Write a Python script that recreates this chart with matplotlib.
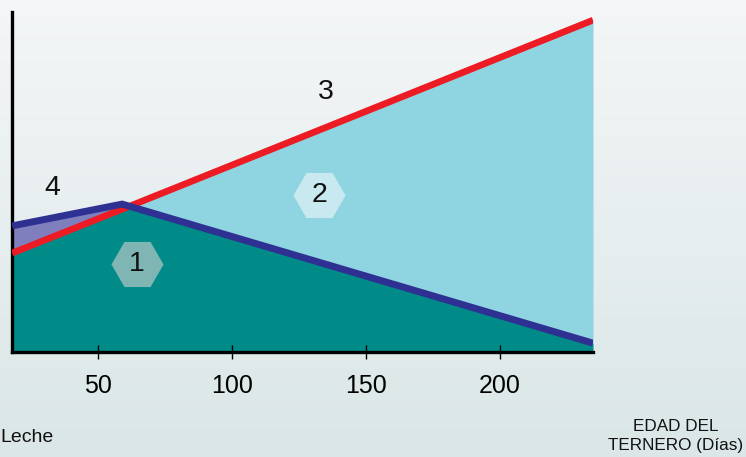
import numpy as np
import matplotlib
matplotlib.use("Agg")
import matplotlib.pyplot as plt
from matplotlib import font_manager

# ---- data ----
days = np.array([18, 59, 234.7])
red_line = np.array([29.1, 42.0, 97.6])      # line 3
blue_line = np.array([37.1, 43.5, 2.6])      # line between 1 and 2 / 4
x_ticks = [50, 100, 150, 200]
x_ticklabels = ["50", "100", "150", "200"]
region_labels = ["1", "2", "3", "4"]
region_x = [64.6, 132.5, 135.0, 32.8]
region_y = [25.9, 46.2, 76.5, 48.2]
hex_x = [64.6, 132.5]
hex_y = [25.9, 46.2]
hex_colors = ["#7fb6b4", "#c9e9f0"]

names = {f.name for f in font_manager.fontManager.ttflist}
if "DejaVu Sans Condensed" in names:
    FONT = ["DejaVu Sans Condensed", "DejaVu Sans"]
elif "Liberation Sans Narrow" in names:
    FONT = ["Liberation Sans Narrow", "DejaVu Sans"]
else:
    FONT = ["Liberation Sans", "DejaVu Sans"]
plt.rcParams["font.family"] = FONT

fig = plt.figure(figsize=(7.46, 4.57), dpi=100)

# gradient background
bg = fig.add_axes([0, 0, 1, 1], zorder=-10)
grad = np.linspace(0, 1, 256).reshape(-1, 1)
top = np.array([0.957, 0.965, 0.969])
bot = np.array([0.855, 0.902, 0.906])
img = top + (bot - top) * grad[:, :, None] * np.ones((1, 2, 1))
bg.imshow(img, aspect="auto", extent=[0, 1, 0, 1], origin="upper")
bg.set_axis_off()

ax = fig.add_axes([12 / 746, 1 - 352 / 457, (593 - 12) / 746, (352 - 12) / 457])
ax.patch.set_alpha(0)
ax.set_xlim(17.9, 234.7)
ax.set_ylim(0, 100)

teal = "#008b89"
light = "#8fd4e1"
purple = "#7f7fbe"
red = "#ed1c24"
blue = "#2e3192"

ax.fill_between(days, 0, blue_line, color=teal, lw=0, zorder=1)
ax.fill_between(days, blue_line, red_line, where=red_line >= blue_line,
                interpolate=True, color=light, lw=0, zorder=1)
ax.fill_between(days, red_line, blue_line, where=blue_line > red_line,
                interpolate=True, color=purple, lw=0, zorder=1)

ax.plot(days, red_line, color=red, lw=4.8, solid_capstyle="butt", zorder=3)
ax.plot(days, blue_line, color=blue, lw=5.0, solid_capstyle="butt",
        solid_joinstyle="miter", zorder=4)

for hx, hy, hc in zip(hex_x, hex_y, hex_colors):
    ax.plot([hx], [hy], marker="H", markersize=37.5, color=hc,
            markeredgewidth=0, zorder=5)

for lab, lx, ly in zip(region_labels, region_x, region_y):
    ax.text(lx, ly, lab, ha="center", va="center", fontsize=20.5,
            color="#111111", zorder=6)

for s in ["top", "right"]:
    ax.spines[s].set_visible(False)
for s in ["left", "bottom"]:
    ax.spines[s].set_linewidth(2.4)
    ax.spines[s].set_color("black")
ax.set_yticks([])
ax.set_xticks(x_ticks)
ax.set_xticklabels(x_ticklabels, fontsize=18)
ax.tick_params(axis="x", direction="inout", length=10, width=1, pad=11,
               colors="black")

fig.text(0 / 746, 1 - 437 / 457, "Leche", fontsize=14,
         ha="left", va="center", color="#111111")
fig.text(676 / 746, 1 - 436 / 457, "EDAD DEL\nTERNERO (Días)", fontsize=12.3,
         ha="center", va="center", color="#111111", linespacing=1.3)

fig.savefig("out.png", dpi=100)
